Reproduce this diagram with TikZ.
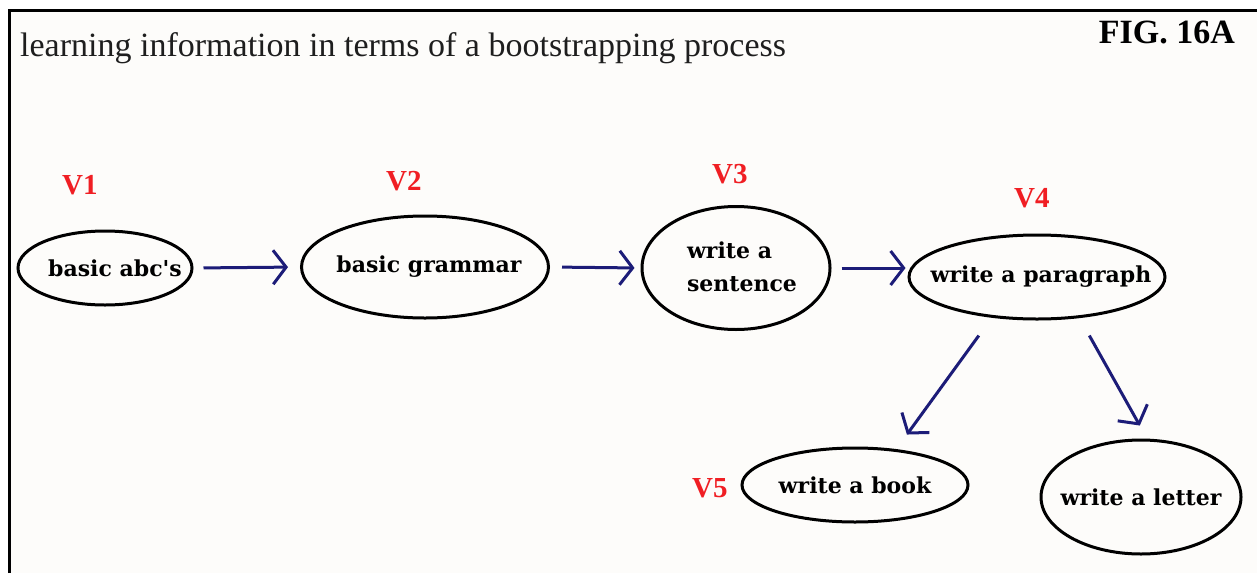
\documentclass[tikz,border=0pt]{standalone}
\usepackage{fontspec}
\setmainfont{Liberation Serif}
\newfontfamily\nodefont{DejaVu Serif}
\usetikzlibrary{shapes.geometric,arrows.meta}
\definecolor{bgc}{RGB}{253,252,250}
\definecolor{arrc}{RGB}{28,28,120}
\definecolor{vred}{RGB}{240,30,35}
\definecolor{titc}{RGB}{30,30,30}
\newcommand{\ztext}[2]{\makebox[0pt]{\hspace*{#1}#2}}
\begin{document}
\begin{tikzpicture}[x=1pt,y=-1pt,
  vnode/.style={ellipse,draw=black,line width=3pt,inner sep=0pt,align=center,
    font=\nodefont\fontsize{22}{33}\selectfont\bfseries},
  vlab/.style={text=vred,inner sep=0pt,anchor=base west,font=\fontsize{29}{30}\selectfont\bfseries},
  arr/.style={draw=arrc,line width=3pt,-{Straight Barb[length=13pt,width=34pt]}}]
\useasboundingbox (0,0) rectangle (1257,573);
\fill[white] (0,0) rectangle (1257,573);
\fill[bgc] (9,10) rectangle (1257,573);
\draw[line width=3pt] (9,573) -- (9,10) -- (1257,10);
% title
\node[anchor=base west,inner sep=0pt,text=titc,font=\fontsize{34}{35}\selectfont] (title) at (20,56) {learning information in terms of a bootstrapping process};
\node[anchor=base east,inner sep=0pt,font=\fontsize{34}{35}\selectfont\bfseries] (fig) at (1235,43) {FIG. 16A};
% nodes
\node[vnode,minimum width=174pt,minimum height=74pt] (v1) at (105,268) {\ztext{20pt}{basic abc's}};
\node[vnode,minimum width=247pt,minimum height=102pt] (v2) at (425,267) {\ztext{8pt}{basic grammar}};
\node[vnode,minimum width=188pt,minimum height=123pt] (v3) at (736,268) {\ztext{12pt}{\begin{tabular}{@{}l@{}}write a\\sentence\end{tabular}}};
\node[vnode,minimum width=256pt,minimum height=84pt] (v4) at (1037,277) {\ztext{8pt}{write a paragraph}};
\node[vnode,minimum width=226pt,minimum height=74pt] (v5) at (855,485) {\ztext{0pt}{write a book}};
\node[vnode,minimum width=200pt,minimum height=114pt] (v6) at (1141,497) {\ztext{0pt}{write a letter}};
% labels
\node[vlab] (l1) at (62,194) {V1};
\node[vlab] (l2) at (386,190) {V2};
\node[vlab] (l3) at (712,183) {V3};
\node[vlab] (l4) at (1014,207) {V4};
\node[vlab] (l5) at (692,497) {V5};
% arrows
\draw[arr,shorten <=10pt,shorten >=12pt] (v1.east) -- (v2.west);
\draw[arr,shorten <=12pt,shorten >=6pt] (v2.east) -- (v3.west);
\draw[arr,shorten <=10pt,shorten >=2pt] (v3.east) -- (v3.east -| v4.west);
\draw[arr,shorten <=22pt,shorten >=18pt] (v4.222) -- (v5.41);
\draw[arr,shorten <=20pt,shorten >=15pt] (v4.316) -- (v6.84);
\end{tikzpicture}
\end{document}
